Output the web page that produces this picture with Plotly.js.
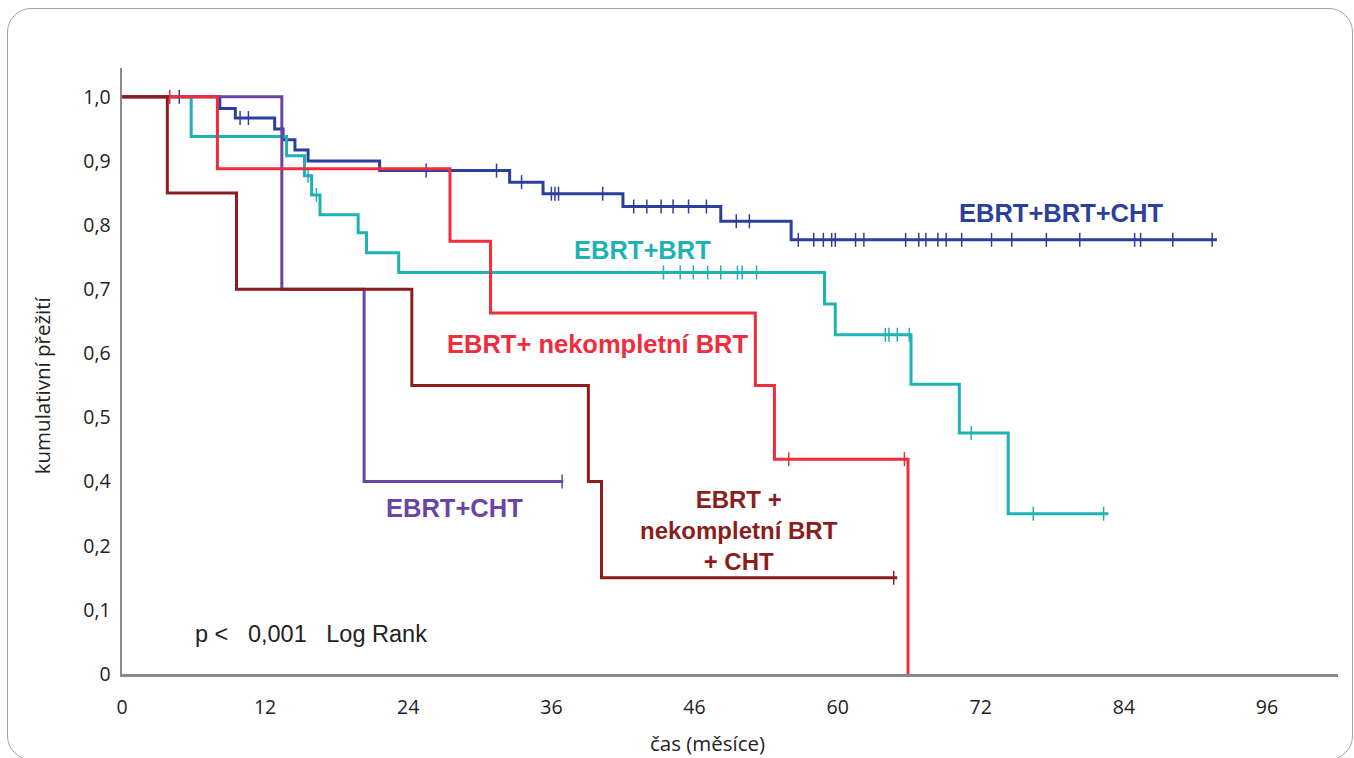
<!DOCTYPE html>
<html><head><meta charset="utf-8">
<script src="https://cdn.plot.ly/plotly-3.0.1.min.js"></script>
<style>
html,body{margin:0;padding:0;background:#fff;overflow:hidden}
#chart{position:absolute;left:0;top:0;width:1354px;height:758px}
#frame{position:absolute;left:7px;top:8px;width:1346px;height:752px;border:1.5px solid #a3a3a3;border-radius:24px;box-sizing:border-box;pointer-events:none}
</style></head><body>
<div id="chart"></div><div id="frame"></div>
<script>
// ---- axis labels ----
const yTickLabels = ["0","0,1","0,2","0,4","0,5","0,6","0,7","0,8","0,9","1,0"];
const yTickValues = [0, 0.1, 0.2, 0.4, 0.5, 0.6, 0.7, 0.8, 0.9, 1.0];
const xTickVals = [0, 12, 24, 36, 48, 60, 72, 84, 96];
const xTickText = ["0", "12", "24", "36", "46", "60", "72", "84", "96"];
const xTitle = 'čas (měsíce)';
const yTitle = 'kumulativní přežití';

// ---- EBRT+BRT+CHT (blue) ----
const blueTimes = [0, 8.2, 9.5, 12.8, 13.5, 14.5, 15.6, 21.6, 32.5, 35.3, 42.0, 50.2, 56.1];
const blueSurv  = [1.0, 0.982, 0.967, 0.95, 0.933, 0.917, 0.90, 0.885, 0.867, 0.849, 0.829, 0.806, 0.777];
const blueEnd = 91.8;
const blueCensor = [4.8, 9.9, 10.6, 25.5, 31.4, 33.5, 36.0, 36.3, 36.6, 40.3, 42.9, 44.0, 45.2, 46.2, 47.5, 49.0,
  51.5, 52.6, 56.7, 58.0, 58.8, 59.5, 59.8, 61.5, 62.2, 65.7, 66.8, 67.4, 68.4, 69.1, 70.4, 72.9, 74.6, 77.5,
  80.3, 84.9, 85.4, 88.1, 91.4];

// ---- EBRT+BRT (teal) ----
const tealTimes = [0, 5.8, 13.8, 15.3, 15.9, 16.6, 19.8, 20.5, 23.2, 58.9, 59.8, 66.15, 70.2, 74.3];
const tealSurv  = [1.0, 0.938, 0.908, 0.877, 0.847, 0.816, 0.788, 0.757, 0.726, 0.677, 0.629, 0.552, 0.476, 0.30];
const tealEnd = 82.7;
const tealCensor = [15.6, 16.3, 45.4, 46.8, 47.9, 49.1, 50.2, 51.6, 52.0, 53.2, 64.0, 64.3, 65.0, 66.0, 71.2, 76.4, 82.3];

// ---- EBRT+CHT (purple) ----
const purpleTimes = [0, 13.4, 20.3];
const purpleSurv  = [1.0, 0.70, 0.40];
const purpleEnd = 37.0;
const purpleCensor = [36.9];

// ---- EBRT+ nekompletní BRT (red) ----
const redTimes = [0, 8.0, 27.5, 30.9, 53.1, 54.7, 65.9];
const redSurv  = [1.0, 0.888, 0.775, 0.663, 0.55, 0.435, 0.0];
const redEnd = 65.9;
const redCensor = [4.0, 55.9, 65.6];

// ---- EBRT + nekompletní BRT + CHT (dark red) ----
const brownTimes = [0, 3.8, 9.6, 24.3, 39.1, 40.2];
const brownSurv  = [1.0, 0.85, 0.70, 0.55, 0.40, 0.15];
const brownEnd = 65.0;
const brownCensor = [64.7];

// map a survival value onto the (unevenly labelled) vertical axis
function toPos(v) {
  for (let i = 0; i < yTickValues.length - 1; i++) {
    const a = yTickValues[i], b = yTickValues[i + 1];
    if (v >= a && v <= b) return i + (v - a) / (b - a);
  }
  return v <= 0 ? 0 : yTickValues.length - 1;
}
function survAt(times, surv, t) {
  let s = surv[0];
  for (let i = 0; i < times.length; i++) if (times[i] <= t) s = surv[i];
  return s;
}

const series = [
  {times: blueTimes, surv: blueSurv, end: blueEnd, cens: blueCensor, color: '#2d3f9c'},
  {times: tealTimes, surv: tealSurv, end: tealEnd, cens: tealCensor, color: '#1fb2b4'},
  {times: purpleTimes, surv: purpleSurv, end: purpleEnd, cens: purpleCensor, color: '#6a45a6'},
  {times: redTimes, surv: redSurv, end: redEnd, cens: redCensor, color: '#ef2d3c'},
  {times: brownTimes, surv: brownSurv, end: brownEnd, cens: brownCensor, color: '#8c1d1d'}
];

const traces = [];
series.forEach(s => {
  const xs = s.times.slice();
  const ys = s.surv.map(toPos);
  if (s.end > xs[xs.length - 1]) { xs.push(s.end); ys.push(ys[ys.length - 1]); }
  traces.push({type: 'scatter', mode: 'lines', x: xs, y: ys, line: {shape: 'hv', color: s.color, width: 3},
    hoverinfo: 'skip', showlegend: false});
  traces.push({type: 'scatter', mode: 'markers', x: s.cens,
    y: s.cens.map(t => toPos(survAt(s.times, s.surv, t))),
    marker: {symbol: 'line-ns', size: 10, color: s.color, line: {color: s.color, width: 1.5}},
    hoverinfo: 'skip', showlegend: false});
});

const labFont = (c, sz) => ({family: 'Liberation Sans, Arial, sans-serif', size: sz, color: c, weight: 'bold'});
const titleFont = {family: 'Open Sans, sans-serif', size: 20.5, color: '#222'};
const annotations = [
  {x: 78.7, y: 7.19, text: '<b>EBRT+BRT+CHT</b>', font: labFont('#2d3f9c', 25.5)},
  {x: 43.6, y: 6.61, text: '<b>EBRT+BRT</b>', font: labFont('#1fb2b4', 25.5)},
  {x: 39.9, y: 5.15, text: '<b>EBRT+ nekompletní BRT</b>', font: labFont('#ef2d3c', 25.5)},
  {x: 27.9, y: 2.59, text: '<b>EBRT+CHT</b>', font: labFont('#6a45a6', 25.5)},
  {x: 51.7, y: 2.24, text: '<b>EBRT +<br>nekompletní BRT<br>+ CHT</b>', font: labFont('#8c1d1d', 24)},
  {x: 5.95, y: 0.62, xanchor: 'left', text: 'p <\u00a0\u00a0\u00a00,001\u00a0\u00a0\u00a0Log Rank',
    font: {family: 'Liberation Sans, Arial, sans-serif', size: 23.5, color: '#222'}},
  {xref: 'paper', yref: 'paper', x: 0.4815, y: -0.1135, text: xTitle, font: titleFont},
  {xref: 'paper', yref: 'paper', x: -0.0658, y: 0.4765, text: yTitle, font: titleFont, textangle: -90}
].map(a => Object.assign({xref: 'x', yref: 'y', showarrow: false, yanchor: 'middle', xanchor: 'center'}, a));

const tickFont = {family: 'Open Sans, sans-serif', size: 19.5, color: '#222'};
const layout = {
  width: 1354, height: 758,
  margin: {l: 122, r: 16, t: 68, b: 84, pad: 0},
  paper_bgcolor: '#ffffff', plot_bgcolor: '#ffffff',
  showlegend: false,
  xaxis: {range: [0, 101.95], tickmode: 'array', tickvals: xTickVals, ticktext: xTickText,
    showline: true, linecolor: '#8a8a8a', linewidth: 2.5, showgrid: false, zeroline: false,
    ticks: '', ticklabelstandoff: 14, tickfont: tickFont},
  yaxis: {range: [0, 9.45], tickmode: 'array', tickvals: yTickLabels.map((_, i) => i), ticktext: yTickLabels,
    showline: true, linecolor: '#8a8a8a', linewidth: 2.5, showgrid: false, zeroline: false,
    ticks: '', ticklabelstandoff: 5, tickfont: tickFont},
  annotations: annotations
};
Plotly.newPlot('chart', traces, layout, {staticPlot: true, displayModeBar: false});
</script></body></html>
